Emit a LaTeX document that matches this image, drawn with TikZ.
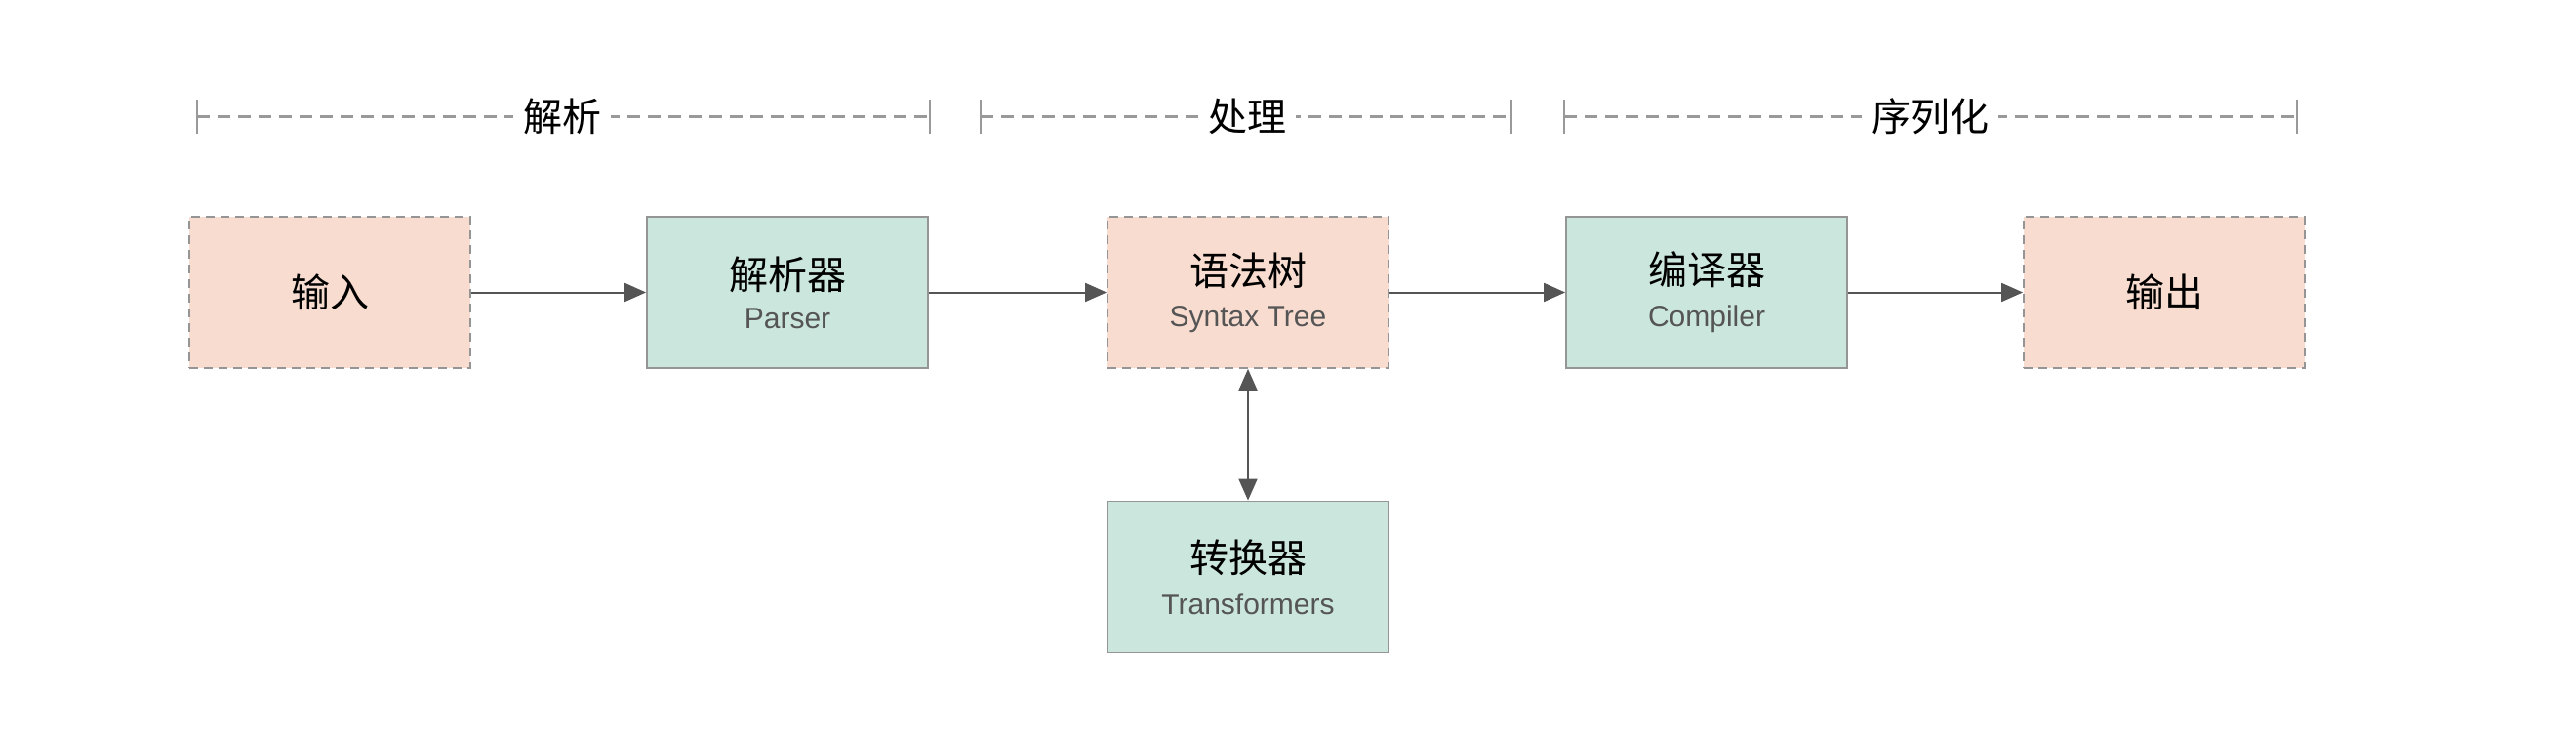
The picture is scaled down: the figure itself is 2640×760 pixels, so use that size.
\documentclass[tikz,border=0pt]{standalone}
\usepackage{fontspec}
\setmainfont{Noto Sans CJK SC}
\newfontfamily\latinfont{Liberation Sans}
\usetikzlibrary{arrows.meta}
\definecolor{pinkfill}{HTML}{F8DCD0}
\definecolor{greenfill}{HTML}{CBE6DD}
\definecolor{boxline}{HTML}{959595}
\definecolor{arrowcol}{HTML}{555555}
\definecolor{subgray}{HTML}{555555}
\definecolor{brackcol}{HTML}{999999}
\tikzset{
  basebox/.style={minimum width=144pt, minimum height=77.5pt, inner sep=0pt, align=center, line width=0.9pt, draw=boxline},
  databox/.style={basebox, fill=pinkfill, dashed, dash pattern=on 4.5pt off 3pt},
  procbox/.style={basebox, fill=greenfill},
  flow/.style={draw=arrowcol, line width=1pt, -{Triangle[length=11pt,width=9.5pt]}},
  biflow/.style={draw=arrowcol, line width=1pt, {Triangle[length=11pt,width=9.5pt]}-{Triangle[length=11pt,width=9.5pt]}},
  brack/.style={draw=brackcol, line width=1.1pt, dash pattern=on 6.5pt off 4pt},
  tick/.style={draw=brackcol, line width=1pt},
  brlabel/.style={fill=white, inner sep=5pt, font=\fontsize{20}{24}\selectfont}
}
\newcommand{\zh}[1]{{\fontsize{20}{24}\selectfont #1}}
\newcommand{\en}[1]{{\latinfont\fontsize{15}{18}\selectfont\color{subgray}#1}}
\begin{document}
\begin{tikzpicture}[x=0.5pt,y=-0.5pt]
\useasboundingbox (0,0) rectangle (2640,760);
% brackets
\coordinate (b1l) at (202,119.5); \coordinate (b1r) at (953,119.5);
\coordinate (b2l) at (1005,119.5); \coordinate (b2r) at (1549,119.5);
\coordinate (b3l) at (1603,119.5); \coordinate (b3r) at (2354,119.5);
\draw[brack] (b1l) -- (b1r);
\draw[brack] (b2l) -- (b2r);
\draw[brack] (b3l) -- (b3r);
\foreach \p in {b1l,b1r,b2l,b2r,b3l,b3r}{
  \draw[tick] ([yshift=-17.5*0.5pt]\p) -- ([yshift=17.5*0.5pt]\p);
}
\node[brlabel] (l1) at (576,119.5) {解析};
\node[brlabel] (l2) at (1278,119.5) {处理};
\node[brlabel] (l3) at (1978,119.5) {序列化};
% boxes
\node[databox] (in) at (338,299.5) {\zh{输入}};
\node[procbox] (parser) at (807,299.5) {\zh{解析器}\\[8pt]\en{Parser}};
\node[databox] (ast) at (1279,299.5) {\zh{语法树}\\[8pt]\en{Syntax Tree}};
\node[procbox] (comp) at (1749,299.5) {\zh{编译器}\\[8pt]\en{Compiler}};
\node[databox] (out) at (2218,299.5) {\zh{输出}};
\node[procbox] (trans) at (1279,591) {\zh{转换器}\\[8pt]\en{Transformers}};
% arrows
\draw[flow] (in) -- (parser);
\draw[flow] (parser) -- (ast);
\draw[flow] (ast) -- (comp);
\draw[flow] (comp) -- (out);
\draw[biflow] (ast) -- (trans);
\end{tikzpicture}
\end{document}
